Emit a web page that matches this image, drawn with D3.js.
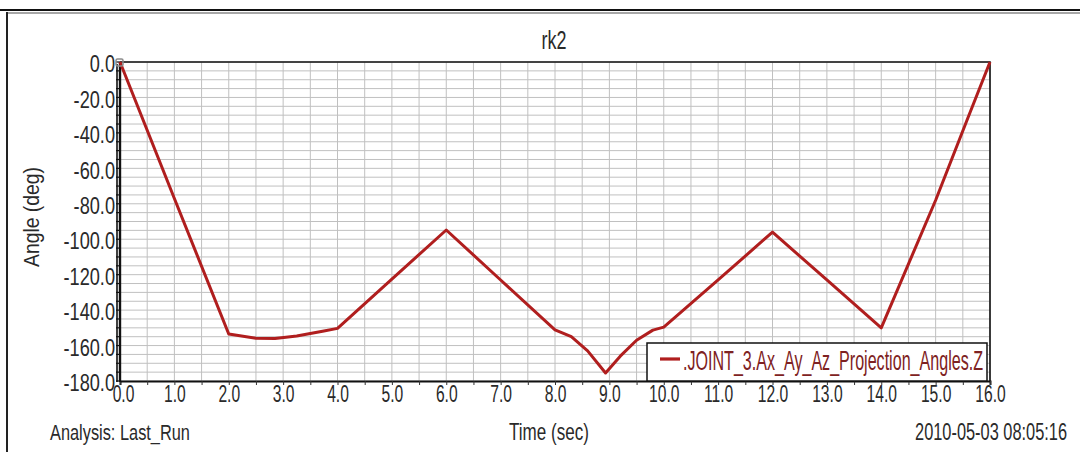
<!DOCTYPE html>
<html>
<head>
<meta charset="utf-8">
<script src="https://cdn.jsdelivr.net/npm/d3@7"></script>
<style>
  html, body { margin: 0; padding: 0; background: #fff; }
  svg { display: block; }
  text { font-family: "Liberation Sans", Arial, sans-serif; fill: #2a2a2a; }
</style>
</head>
<body>
<svg id="chart" width="1080" height="452"></svg>
<script>
// Simulation output: joint projection angle over time
const timeSec = [0, 1, 2, 2.5, 2.85, 3.25, 3.75, 4, 5, 6, 7, 8, 8.3, 8.6, 8.93, 9.2, 9.5, 9.8, 10, 11, 12, 13, 14, 15, 15.6, 16];
const angleDeg = [0, -77, -153.5, -155.9, -156, -154.6, -151.8, -150.3, -122.5, -94.8, -123, -151.2, -155, -163, -175.5, -166, -157, -151.3, -149.6, -123, -96, -123, -150, -78, -31, 0];

const xTickValues = d3.range(0, 16.01, 0.5);
const yLabelValues = d3.range(-180, 0.01, 20);
const yGridValues = d3.range(-180, 0.01, 5);

const titleText = "rk2";
const yAxisTitle = "Angle (deg)";
const xAxisTitle = "Time (sec)";
const analysisText = "Analysis:  Last_Run";
const stampText = "2010-05-03 08:05:16";
const seriesName = ".JOINT_3.Ax_Ay_Az_Projection_Angles.Z";

const W = 1080, H = 452;
const plot = { left: 120, right: 990, top: 62, bottom: 381 };
const lineColor = "#b01e1e";

const svg = d3.select("#chart");

// narrow, tall lettering: scale glyphs horizontally around the anchor point
function label(parent, px, py, str, size, anchor, width, rotate) {
  const t = parent.append("text")
    .attr("font-size", size)
    .attr("text-anchor", anchor)
    .text(str);
  const sx = width / t.node().getComputedTextLength();
  t.attr("transform", `translate(${px},${py})${rotate ? ` rotate(${rotate})` : ""} scale(${sx},1)`);
  return t;
}
function squeezeTicks(sel, sx) {
  sel.each(function () {
    const x0 = +(this.getAttribute("x") || 0);
    this.setAttribute("x", x0 / sx);
    this.setAttribute("transform", `scale(${sx},1)`);
  });
}

const x = d3.scaleLinear().domain([0, 16]).range([plot.left, plot.right]);
const y = d3.scaleLinear().domain([-180, 0]).range([plot.bottom, plot.top]);

// window frame
svg.append("line").attr("x1", 0).attr("x2", W).attr("y1", 10).attr("y2", 10)
  .attr("stroke", "#111").attr("stroke-width", 2);
svg.append("line").attr("x1", 7).attr("x2", W).attr("y1", 13).attr("y2", 13)
  .attr("stroke", "#8a8a8a").attr("stroke-width", 1.5);
svg.append("line").attr("x1", 7).attr("x2", 7).attr("y1", 12).attr("y2", H)
  .attr("stroke", "#222").attr("stroke-width", 2);

// grid
const grid = svg.append("g").attr("stroke", "#c0c0c0").attr("stroke-width", 1);
grid.selectAll("line.v").data(xTickValues).join("line").attr("class", "v")
  .attr("x1", d => x(d)).attr("x2", d => x(d))
  .attr("y1", plot.top).attr("y2", plot.bottom);
grid.selectAll("line.h").data(yGridValues).join("line").attr("class", "h")
  .attr("x1", plot.left).attr("x2", plot.right)
  .attr("y1", d => y(d)).attr("y2", d => y(d));

// plot border (top and right)
svg.append("path")
  .attr("d", `M${plot.left},${plot.top}H${plot.right}V${plot.bottom}`)
  .attr("fill", "none").attr("stroke", "#111").attr("stroke-width", 1.6);

// x axis
const xAxis = d3.axisBottom(x)
  .tickValues(xTickValues)
  .tickSize(4)
  .tickPadding(1)
  .tickFormat(d => Number.isInteger(d) ? d.toFixed(1) : "");
const gx = svg.append("g").attr("transform", `translate(0,${plot.bottom})`).call(xAxis);
gx.select(".domain").attr("stroke", "#111").attr("stroke-width", 2);
gx.selectAll(".tick line").attr("stroke", "#333").attr("stroke-width", 1);
gx.selectAll(".tick text").attr("font-size", 23).attr("fill", "#2a2a2a")
  .attr("font-family", "Liberation Sans, Arial, sans-serif");
gx.selectAll(".tick").filter(d => d === 0).select("text").attr("x", 3);
squeezeTicks(gx.selectAll(".tick text"), 0.68);

// y axis labels
const yAxis = d3.axisLeft(y)
  .tickValues(yLabelValues)
  .tickSize(0)
  .tickPadding(5)
  .tickFormat(d => d.toFixed(1));
const gy = svg.append("g").attr("transform", `translate(${plot.left},0)`).call(yAxis);
gy.select(".domain").remove();
gy.selectAll(".tick text").attr("font-size", 23).attr("fill", "#2a2a2a")
  .attr("dy", "0.42em")
  .attr("font-family", "Liberation Sans, Arial, sans-serif");
squeezeTicks(gy.selectAll(".tick text"), 0.79);

// y axis ladder rail
const rail = svg.append("g").attr("stroke", "#111");
rail.append("line").attr("x1", plot.left).attr("x2", plot.left)
  .attr("y1", plot.top).attr("y2", plot.bottom + 1).attr("stroke-width", 2.4);
rail.append("line").attr("x1", plot.left - 3).attr("x2", plot.left - 3)
  .attr("y1", plot.top + 2).attr("y2", plot.bottom + 1).attr("stroke-width", 1.6);
rail.selectAll("line.rung").data(yGridValues).join("line").attr("class", "rung")
  .attr("x1", plot.left - 4).attr("x2", plot.left)
  .attr("y1", d => y(d)).attr("y2", d => y(d)).attr("stroke-width", 1.2);

// data line
const line = d3.line().x((d, i) => x(timeSec[i])).y(d => y(d));
svg.append("path")
  .datum(angleDeg)
  .attr("d", line)
  .attr("fill", "none")
  .attr("stroke", lineColor)
  .attr("stroke-width", 3)
  .attr("stroke-linejoin", "round");

// start-point marker
svg.append("rect")
  .attr("x", x(timeSec[0]) - 4).attr("y", y(angleDeg[0]) - 3)
  .attr("width", 7).attr("height", 7).attr("rx", 1.5)
  .attr("fill", "none").attr("stroke", "#8c8c8c").attr("stroke-width", 1.5);

// legend
const lg = svg.append("g");
lg.append("rect").attr("x", 647).attr("y", 343).attr("width", 340).attr("height", 38)
  .attr("fill", "#fff").attr("stroke", "#111").attr("stroke-width", 1.5);
lg.append("line").attr("x1", 660).attr("x2", 680).attr("y1", 359).attr("y2", 359)
  .attr("stroke", lineColor).attr("stroke-width", 3.2);
label(lg, 683, 370, seriesName, 27, "start", 300).style("fill", "#7e2222");

// titles and captions
label(svg, 554, 49, titleText, 26, "middle", 25);
label(svg, 39, 217, yAxisTitle, 22, "middle", 100, -90);
label(svg, 549, 440, xAxisTitle, 23, "middle", 80);
label(svg, 50, 440, analysisText, 22, "start", 140);
label(svg, 1067, 440, stampText, 24, "end", 152);
</script>
</body>
</html>
